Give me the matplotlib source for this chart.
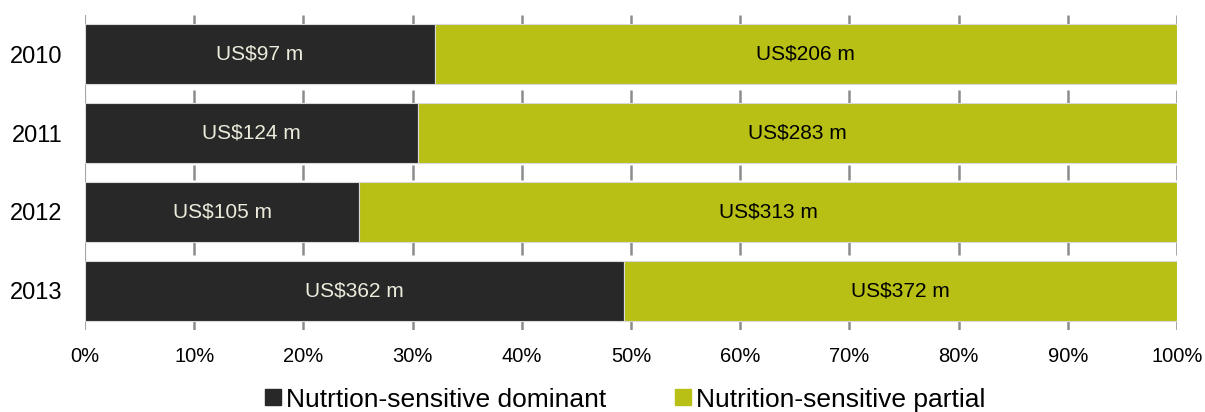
import matplotlib
matplotlib.use("Agg")
import matplotlib.pyplot as plt
from matplotlib.lines import Line2D

plt.rcParams['font.family'] = ['Liberation Sans', 'DejaVu Sans']

years = ["2010", "2011", "2012", "2013"]
dominant = [97, 124, 105, 362]
partial = [206, 283, 313, 372]
series_names = ["Nutrtion-sensitive dominant", "Nutrition-sensitive partial"]
xticks = [0, 10, 20, 30, 40, 50, 60, 70, 80, 90, 100]

dark = "#282828"
green = "#b8bf15"

fig = plt.figure(figsize=(12.05, 4.12), dpi=100)
ax = fig.add_axes([85/1205, (412-330)/412, (1177-85)/1205, 315/412])

tot = [d + p for d, p in zip(dominant, partial)]
dp = [100*d/t for d, t in zip(dominant, tot)]
pp = [100*p/t for p, t in zip(partial, tot)]
ypos = list(range(len(years)))

ax.barh(ypos, dp, height=0.76, color=dark, edgecolor="#d9d9d9", linewidth=0.8, zorder=3)
ax.barh(ypos, pp, left=dp, height=0.76, color=green, edgecolor="#d9d9d9", linewidth=0.8, zorder=3)

for y, d, p, dv, pv in zip(ypos, dp, pp, dominant, partial):
    ax.text(d/2, y, f"US${dv} m", ha="center", va="center", color="#ecebdc", fontsize=15, zorder=4)
    ax.text(d + p/2, y, f"US${pv} m", ha="center", va="center", color="black", fontsize=15, zorder=4)

ax.set_xlim(0, 100)
ax.set_ylim(len(years)-0.5, -0.5)
ax.set_yticks(ypos)
ax.set_yticklabels(years, fontsize=17)
ax.set_xticks(xticks)
ax.set_xticklabels([f"{v}%" for v in xticks], fontsize=14.5)
ax.tick_params(axis='x', length=0, pad=12)
ax.tick_params(axis='y', length=0, pad=16)
for v in xticks[1:]:
    ax.axvline(v, color="#8c8c8c", linestyle=(0, (6, 4)), linewidth=1.8, zorder=1)
ax.axvline(0, color="#a6a6a6", linewidth=1.6, zorder=1)
for s in ax.spines.values():
    s.set_visible(False)

handles = [Line2D([], [], marker='s', linestyle='none', color=dark, markersize=11),
           Line2D([], [], marker='s', linestyle='none', color=green, markersize=11)]
fig.legend(handles, series_names, loc="center", bbox_to_anchor=(0.519, 0.03), ncol=2, frameon=False,
           fontsize=19, handletextpad=0.2, columnspacing=2.6, handlelength=0.6, borderpad=0.1)

fig.savefig("out.png", dpi=100)
